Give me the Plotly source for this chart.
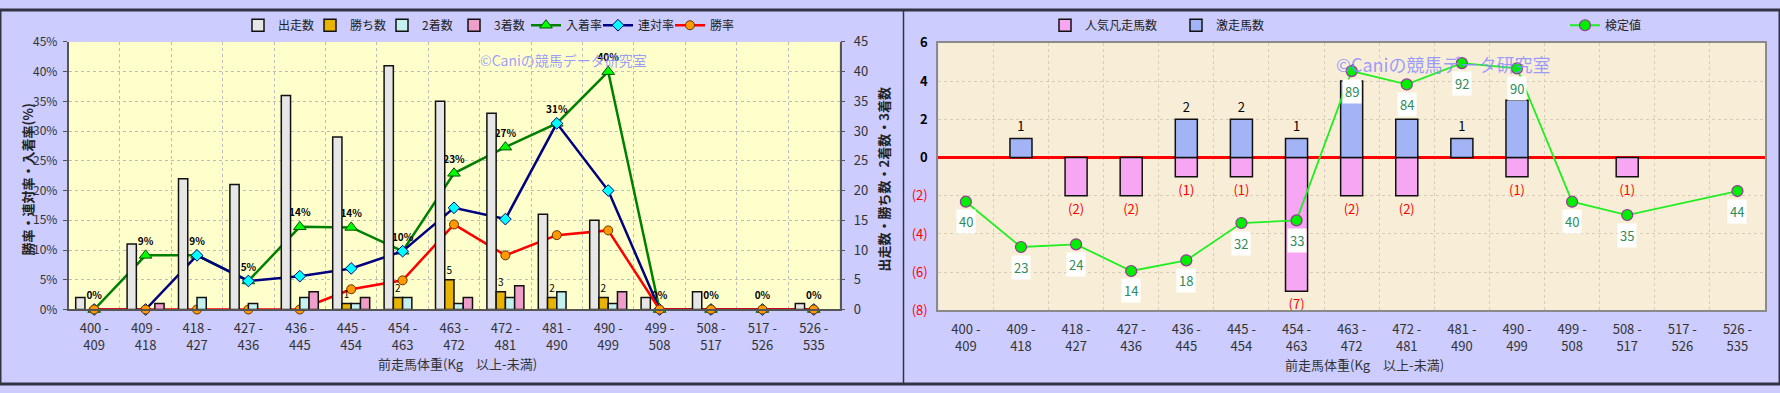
import plotly.graph_objects as go

# ---------------- data ----------------
categories = ["400 -<br>409", "409 -<br>418", "418 -<br>427", "427 -<br>436", "436 -<br>445",
              "445 -<br>454", "454 -<br>463", "463 -<br>472", "472 -<br>481", "481 -<br>490",
              "490 -<br>499", "499 -<br>508", "508 -<br>517", "517 -<br>526", "526 -<br>535"]

starters = [2, 11, 22, 21, 36, 29, 41, 35, 33, 16, 15, 2, 3, 0, 1]      # 出走数
wins = [0, 0, 0, 0, 0, 1, 2, 5, 3, 2, 2, 0, 0, 0, 0]                   # 勝ち数
seconds = [0, 0, 2, 1, 2, 1, 2, 1, 2, 3, 1, 0, 0, 0, 0]                # 2着数
thirds = [0, 1, 0, 0, 3, 2, 0, 2, 4, 0, 3, 0, 0, 0, 0]                 # 3着数
place_rate = [0, 9.1, 9.1, 4.8, 13.9, 13.8, 9.8, 22.9, 27.3, 31.3, 40.0, 0, 0, 0, 0]    # 入着率
quinella_rate = [0, 0, 9.1, 4.8, 5.6, 6.9, 9.8, 17.1, 15.2, 31.3, 20.0, 0, 0, 0, 0]     # 連対率
win_rate = [0, 0, 0, 0, 0, 3.4, 4.9, 14.3, 9.1, 12.5, 13.3, 0, 0, 0, 0]                 # 勝率

flop_counts = [0, 0, -2, -2, -1, -1, -7, -2, -2, 0, -1, 0, -1, 0, 0]   # 人気凡走馬数
upset_counts = [0, 1, 0, 0, 2, 2, 1, 4, 2, 1, 3, 0, 0, 0, 0]          # 激走馬数
test_values = [40, 23, 24, 14, 18, 32, 33, 89, 84, 92, 90, 40, 35, None, 44]  # 検定値

left_ticks = [0, 5, 10, 15, 20, 25, 30, 35, 40, 45]
right_tickvals = [-8, -6, -4, -2, 0, 2, 4, 6]

# ---------------- layout constants ----------------
W, H = 1780, 393
FONT = "Noto Sans CJK JP, Noto Sans, sans-serif"
xdom_l = [68.5 / W, 839.5 / W]
ydom_l = [1 - 314.7 / H, 1 - 33.5 / H]
xdom_r = [938.3 / W, 1765 / W]
ydom_r = [1 - 315.7 / H, 1 - 34.5 / H]


def nz(values):
    """Hide zero-height bars (the reference draws nothing for them)."""
    return [v if v else None for v in values]


fig = go.Figure()
bar_line = dict(color="#111111", width=1.5)

# ---- left chart bars (count axis) ----
fig.add_trace(go.Bar(x=categories, y=nz(starters), name="出走数", xaxis="x", yaxis="y2",
                     marker=dict(color="#E6E6E6", line=bar_line), legend="legend"))
fig.add_trace(go.Bar(x=categories, y=nz(wins), name="勝ち数", xaxis="x", yaxis="y2",
                     marker=dict(color="#E8B400", line=bar_line), legend="legend",
                     text=[str(v) if v else "" for v in wins], textposition="outside",
                     constraintext="none", cliponaxis=False,
                     textfont=dict(size=10, color="#000000", family=FONT)))
fig.add_trace(go.Bar(x=categories, y=nz(seconds), name="2着数", xaxis="x", yaxis="y2",
                     marker=dict(color="#C4F0F0", line=bar_line), legend="legend"))
fig.add_trace(go.Bar(x=categories, y=nz(thirds), name="3着数", xaxis="x", yaxis="y2",
                     marker=dict(color="#EE9EC8", line=bar_line), legend="legend"))

# ---- left chart lines (rate axis) ----
fig.add_trace(go.Scatter(x=categories, y=place_rate, name="入着率", xaxis="x", yaxis="y",
                         mode="lines+markers+text", legend="legend",
                         line=dict(color="#008000", width=2.5),
                         marker=dict(symbol="triangle-up", size=11, color="#00FF00",
                                     line=dict(color="#005000", width=1)),
                         texttemplate="%{y:.0f}%", textposition="top center", cliponaxis=False,
                         textfont=dict(size=10, color="#000000", family=FONT, weight="bold")))
fig.add_trace(go.Scatter(x=categories, y=quinella_rate, name="連対率", xaxis="x", yaxis="y",
                         mode="lines+markers", legend="legend",
                         line=dict(color="#000080", width=2.5),
                         marker=dict(symbol="diamond", size=9, color="#00FFFF",
                                     line=dict(color="#000080", width=1)), cliponaxis=False))
fig.add_trace(go.Scatter(x=categories, y=win_rate, name="勝率", xaxis="x", yaxis="y",
                         mode="lines+markers", legend="legend",
                         line=dict(color="#FF0000", width=2.5),
                         marker=dict(symbol="circle", size=9, color="#FF9900",
                                     line=dict(color="#663300", width=1)), cliponaxis=False))

# ---- right chart bars ----
fig.add_trace(go.Bar(x=categories, y=nz(flop_counts), name="人気凡走馬数", xaxis="x3", yaxis="y3",
                     width=0.4, offset=-0.2, legend="legend2",
                     marker=dict(color="#F6A6F2", line=bar_line),
                     text=[f"({abs(v)})" if v else "" for v in flop_counts],
                     textposition="outside", constraintext="none", cliponaxis=False,
                     textfont=dict(size=13, color="#FF0000", family=FONT)))
fig.add_trace(go.Bar(x=categories, y=nz(upset_counts), name="激走馬数", xaxis="x3", yaxis="y3",
                     width=0.4, offset=-0.2, legend="legend3",
                     marker=dict(color="#A2B3F6", line=bar_line),
                     text=[str(v) if v else "" for v in upset_counts],
                     textposition="outside", constraintext="none", cliponaxis=False,
                     textfont=dict(size=13, color="#000000", family=FONT)))
fig.add_trace(go.Scatter(x=categories, y=test_values, name="検定値", xaxis="x3", yaxis="y4",
                         mode="lines+markers", connectgaps=True, legend="legend4",
                         line=dict(color="#22EE22", width=1.8),
                         marker=dict(symbol="circle", size=11, color="#00EE00",
                                     line=dict(color="#993399", width=1.2)), cliponaxis=False))

# ---------------- annotations ----------------
annotations = []
for c, v in zip(categories, test_values):
    if v is None:
        continue
    annotations.append(dict(x=c, y=v, xref="x3", yref="y4", text=str(v), showarrow=False,
                            yshift=-20, bgcolor="#FFFFFF", borderpad=2,
                            xanchor="center", yanchor="middle",
                            font=dict(size=13, color="#2E8B57", family=FONT)))


def paper_note(x, y, text, **kw):
    d = dict(x=x / W, y=1 - y / H, xref="paper", yref="paper", text=text, showarrow=False,
             xanchor="center", yanchor="middle")
    d.update(kw)
    return d


annotations += [
    paper_note(563, 53, "©Caniの競馬データ研究室",
               font=dict(size=14, color="rgba(140,140,255,0.85)", family=FONT)),
    paper_note(1443, 57, "©Caniの競馬データ研究室",
               font=dict(size=18, color="rgba(140,140,255,0.85)", family=FONT)),
    paper_note(27, 178, "勝率・連対率・入着率(%)", textangle=-90,
               font=dict(size=13, color="#222222", family=FONT, weight="bold")),
    paper_note(883, 178, "出走数・勝ち数・2着数・3着数", textangle=-90,
               font=dict(size=13, color="#222222", family=FONT, weight="bold")),
    paper_note(457, 371, "前走馬体重(Kg　以上-未満)",
               font=dict(size=13, color="#333333", family=FONT)),
    paper_note(1364, 373, "前走馬体重(Kg　以上-未満)",
               font=dict(size=13, color="#333333", family=FONT)),
]

# ---------------- shapes (panel decoration & plot backgrounds) ----------------
shapes = [
    dict(type="rect", xref="paper", yref="paper", x0=xdom_l[0], x1=xdom_l[1], y0=ydom_l[0], y1=ydom_l[1],
         fillcolor="#FFFFCC", line=dict(width=0), layer="below"),
    dict(type="rect", xref="paper", yref="paper", x0=xdom_r[0], x1=xdom_r[1], y0=ydom_r[0], y1=ydom_r[1],
         fillcolor="#F8EED7", line=dict(width=0), layer="below"),
    dict(type="rect", xref="paper", yref="paper", x0=0, x1=1, y0=0, y1=1,
         line=dict(color="#333344", width=3), layer="above"),
    dict(type="line", xref="paper", yref="paper", x0=903.5 / W, x1=903.5 / W, y0=0, y1=1,
         line=dict(color="#333344", width=1.5), layer="above"),
]

right_ticktext = []
for v in right_tickvals:
    if v < 0:
        right_ticktext.append(f"<span style='color:#FF0000'>({abs(v)})</span>")
    else:
        right_ticktext.append(f"<b>{v}</b>")
left_ticktext = [f"{v}%" for v in left_ticks]

tickfont = dict(size=13, color="#333333", family=FONT)
grid_l = dict(showgrid=True, gridcolor="#BDBDBD", griddash="dot", gridwidth=1)
grid_r = dict(showgrid=True, gridcolor="#D6CCB8", griddash="dot", gridwidth=1)

legend_common = dict(orientation="h", yanchor="middle", y=1 - 16 / H, xanchor="left",
                     bgcolor="rgba(0,0,0,0)", font=dict(size=12, color="#222222", family=FONT))

fig.update_layout(
    width=W, height=H, autosize=False,
    margin=dict(l=0, r=0, t=0, b=0),
    paper_bgcolor="#CCCCFF", plot_bgcolor="rgba(0,0,0,0)",
    font=dict(family=FONT),
    barmode="group", bargap=0.28, bargroupgap=0,
    hovermode=False,
    xaxis=dict(domain=xdom_l, anchor="y", type="category", tickson="boundaries", ticks="",
               range=[-0.5, 14.5], showline=True, linecolor="#555555", linewidth=1.5,
               ticklabelstandoff=6, tickfont=tickfont, **grid_l),
    yaxis=dict(domain=ydom_l, anchor="x", range=[0, 45], tickvals=left_ticks, ticktext=left_ticktext,
               showline=True, linecolor="#555555", linewidth=1.5, ticks="outside", ticklen=4,
               tickcolor="#555555", zeroline=False, ticklabelstandoff=3,
               tickfont=dict(size=12, color="#333333", family=FONT), **grid_l),
    yaxis2=dict(overlaying="y", anchor="x", side="right", range=[0, 45], tickvals=left_ticks,
                showgrid=False, showline=True, linecolor="#555555", linewidth=1.5, ticks="outside",
                ticklen=4, tickcolor="#555555", zeroline=False, ticklabelstandoff=6,
                tickfont=dict(size=13, color="#333333", family=FONT)),
    xaxis3=dict(domain=xdom_r, anchor="y3", type="category", tickson="boundaries", ticks="",
                range=[-0.5, 14.5], showline=True, mirror=True, linecolor="#8A8A8A", linewidth=2,
                ticklabelstandoff=6, tickfont=tickfont, **grid_r),
    yaxis3=dict(domain=ydom_r, anchor="x3", range=[-8, 6], tickvals=right_tickvals,
                ticktext=right_ticktext, showline=True, mirror=True, linecolor="#8A8A8A", linewidth=2,
                ticks="", zeroline=True, zerolinecolor="#FF0000", zerolinewidth=3,
                tickfont=dict(size=13, color="#000000", family=FONT), ticklabelstandoff=6, **grid_r),
    yaxis4=dict(overlaying="y3", anchor="x3", range=[-0.8, 99.6], visible=False),
    legend=dict(**legend_common, x=238 / W, entrywidth=27, entrywidthmode="pixels"),
    legend2=dict(**legend_common, x=1045 / W),
    legend3=dict(**legend_common, x=1176 / W),
    legend4=dict(**legend_common, x=1565 / W),
    annotations=annotations,
    shapes=shapes,
    showlegend=True,
)

fig.write_html("out.html")
